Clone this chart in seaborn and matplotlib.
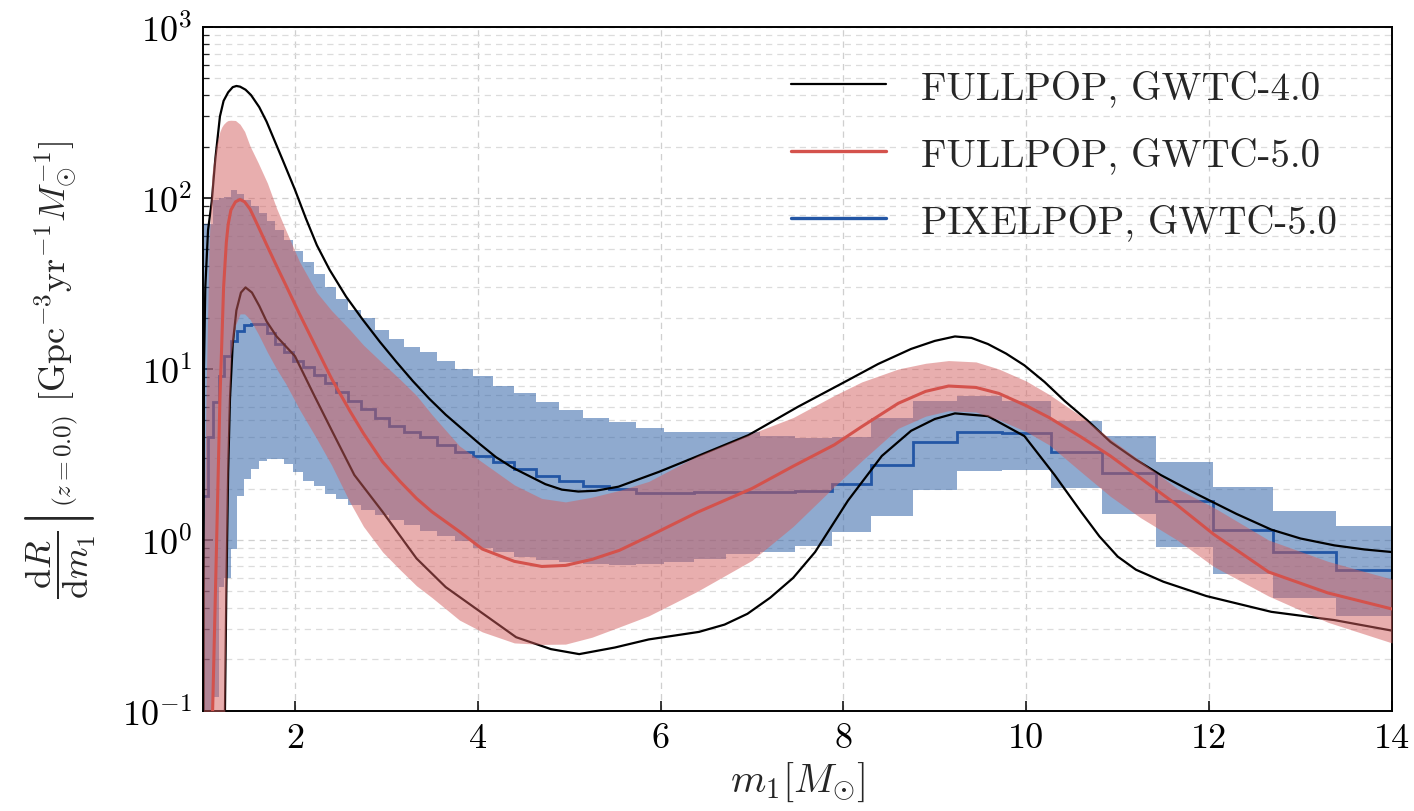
import io
import numpy as np
import matplotlib
matplotlib.use("Agg")
import matplotlib.pyplot as plt
import seaborn as sns
import pandas as pd
from matplotlib.lines import Line2D

# ---------------- data ----------------
# FULLPOP, GWTC-4.0 : 90% bounds (black lines)
bk_hi_x = [1.000, 1.005, 1.02, 1.05, 1.09, 1.13, 1.18, 1.22, 1.27, 1.32, 1.36, 1.40, 1.46,
           1.52, 1.61, 1.69, 1.78, 1.87, 2.00, 2.12, 2.24, 2.38, 2.56, 2.74, 2.93, 3.11,
           3.29, 3.47, 3.65, 3.83, 4.02, 4.20, 4.38, 4.56, 4.74, 4.92, 5.10, 5.29, 5.54,
           5.98, 6.41, 6.96, 7.50, 8.05, 8.38, 8.74, 9.00, 9.22, 9.40, 9.58, 9.78, 9.98,
           10.20, 10.42, 10.67, 10.92, 11.20, 11.47, 11.87, 12.30, 12.68, 13.00, 13.37,
           13.70, 14.00]
bk_hi_y = [0.05, 10, 30, 65, 95, 170, 300, 370, 415, 445, 452, 448, 430,
           400, 340, 280, 215, 165, 112, 76, 53, 38, 26.5, 19.5, 14.4, 11.0,
           8.5, 6.7, 5.4, 4.46, 3.65, 3.05, 2.65, 2.37, 2.12, 1.97, 1.92, 1.94, 2.05,
           2.5, 3.1, 4.1, 6.0, 8.6, 10.7, 13.1, 14.6, 15.5, 15.2, 14.0, 12.3, 10.5,
           8.4, 6.5, 5.0, 3.75, 2.95, 2.4, 1.85, 1.42, 1.15, 1.02, 0.93,
           0.88, 0.85]

bk_lo_x = [1.220, 1.235, 1.25, 1.27, 1.29, 1.32, 1.36, 1.41, 1.46, 1.53, 1.61, 1.69, 1.80,
           2.00, 2.20, 2.41, 2.65, 2.96, 3.33, 3.65, 4.00, 4.42, 4.80, 5.11, 5.50, 5.87,
           6.42, 6.70, 6.95, 7.20, 7.45, 7.69, 8.05, 8.42, 8.74, 9.00, 9.22, 9.58, 9.98,
           10.31, 10.60, 10.80, 11.00, 11.20, 11.50, 11.97, 12.68, 13.37, 14.00]
bk_lo_y = [0.03, 0.1, 0.5, 2.5, 6.7, 14, 22, 28, 30, 28, 23.4, 19, 15.5,
           11.9, 7.2, 4.3, 2.4, 1.46, 0.78, 0.53, 0.39, 0.27, 0.23, 0.215, 0.235, 0.262,
           0.29, 0.32, 0.37, 0.46, 0.60, 0.85, 1.7, 3.1, 4.35, 5.1, 5.5, 5.3, 4.05,
           2.4, 1.46, 1.05, 0.80, 0.67, 0.57, 0.47, 0.38, 0.34, 0.295]

# FULLPOP, GWTC-5.0 : median and 90% band (red)
red_x = [1.00, 1.03, 1.06, 1.09, 1.10, 1.14, 1.18, 1.20, 1.22, 1.25, 1.27, 1.30, 1.35, 1.40,
         1.45, 1.51, 1.60, 1.70, 1.80, 1.90, 2.05, 2.24, 2.40, 2.60, 2.75, 2.96, 3.15, 3.33,
         3.50, 3.80, 4.05, 4.40, 4.70, 4.96, 5.25, 5.55, 5.87, 6.40, 7.00, 7.45, 7.90, 8.20,
         8.60, 8.90, 9.15, 9.45, 9.70, 10.00, 10.25, 10.60, 10.92, 11.25, 11.65, 12.05,
         12.65, 13.30, 14.00]
red_hi = [0.5, 8, 50, 130, 150, 205, 245, 260, 270, 280, 284, 285, 284, 270,
          245, 201, 160, 122, 87, 65, 42.5, 28, 22, 17, 13.8, 10.8, 8.7, 7.0,
          5.4, 3.55, 2.85, 2.1, 1.75, 1.67, 1.78, 1.95, 2.2, 3.1, 4.2, 5.2, 7.0, 8.4,
          10.0, 10.8, 11.2, 11.0, 10.0, 8.5, 7.1, 5.3, 3.9, 2.9, 2.0, 1.55,
          1.0, 0.75, 0.59]
red_med = [0.01, 0.02, 0.04, 0.07, 0.1, 0.8, 6.7, 14, 30, 55, 70, 85, 95, 98,
           95, 86, 68, 52, 40, 31, 21, 13.1, 8.8, 5.7, 4.2, 2.86, 2.2, 1.75,
           1.46, 1.12, 0.885, 0.75, 0.70, 0.71, 0.77, 0.87, 1.05, 1.45, 2.0, 2.7, 3.6, 4.6,
           6.3, 7.4, 7.95, 7.8, 7.2, 6.1, 5.2, 4.0, 3.1, 2.3, 1.6, 1.08,
           0.65, 0.49, 0.395]
red_lo = [0.01, 0.01, 0.01, 0.01, 0.01, 0.01, 0.01, 0.01, 0.03, 0.5, 3, 12, 18, 21,
          21, 19.5, 16, 12.5, 10, 8.2, 5.8, 3.9, 2.75, 1.67, 1.2, 0.85, 0.67, 0.54,
          0.46, 0.34, 0.29, 0.25, 0.245, 0.246, 0.27, 0.31, 0.36, 0.50, 0.76, 1.2, 2.05, 2.9,
          4.5, 5.3, 5.7, 5.6, 5.05, 4.3, 3.6, 2.5, 1.8, 1.35, 1.0, 0.70,
          0.47, 0.33, 0.25]

# PIXELPOP, GWTC-5.0 : binned median and 90% band (blue)
bin_edges = [0.994, 1.048, 1.105, 1.166, 1.229, 1.296, 1.367, 1.441, 1.520, 1.603, 1.690,
             1.782, 1.879, 1.982, 2.090, 2.204, 2.324, 2.450, 2.584, 2.725, 2.873, 3.030,
             3.195, 3.369, 3.553, 3.746, 3.951, 4.166, 4.393, 4.633, 4.885, 5.151, 5.432,
             5.729, 6.041, 6.370, 6.717, 7.084, 7.470, 7.877, 8.306, 8.759, 9.237, 9.740,
             10.271, 10.831, 11.422, 12.044, 12.701, 13.393, 14.123]
blue_hi = [70, 70, 97, 100, 102, 112, 106, 98, 90, 82, 73, 65, 57, 49, 42, 36, 30, 25.7,
           22, 20, 16.9, 15, 13.4, 12.6, 11.1, 10, 9.1, 7.9, 7.2, 6.4, 5.75, 5.2, 4.9, 4.5,
           4.3, 4.3, 4.3, 4.05, 3.95, 4.0, 5.2, 6.5, 6.95, 6.5, 4.97, 4.05, 2.86, 2.04,
           1.48, 1.21]
blue_med = [1.8, 4.0, 6.4, 9.1, 11.9, 14.5, 16.6, 18, 18.3, 18.3, 16.3, 14, 12.5, 11.2,
            10.3, 9.2, 8.3, 7.3, 6.5, 5.8, 5.2, 4.65, 4.3, 4.0, 3.6, 3.27, 3.1, 2.86, 2.6,
            2.37, 2.21, 2.07, 2.0, 1.88, 1.88, 1.9, 1.9, 1.9, 1.93, 2.12, 2.73, 3.74, 4.3,
            4.2, 3.27, 2.46, 1.68, 1.14, 0.85, 0.67]
blue_lo = [0.05, 0.05, 0.12, 0.53, 0.6, 0.885, 1.8, 2.27, 2.6, 2.9, 2.98, 2.98, 2.78, 2.5,
           2.2, 2.07, 1.86, 1.74, 1.6, 1.5, 1.4, 1.3, 1.22, 1.13, 1.05, 0.98, 0.9, 0.85,
           0.8, 0.76, 0.74, 0.72, 0.71, 0.72, 0.74, 0.77, 0.83, 0.85, 0.92, 1.11, 1.38,
           1.96, 2.54, 2.57, 2.01, 1.42, 0.91, 0.63, 0.46, 0.36]

x_ticks = [2, 4, 6, 8, 10, 12, 14]
legend_labels = ["FULLPOP, GWTC-4.0", "FULLPOP, GWTC-5.0", "PIXELPOP, GWTC-5.0"]

# ---------------- style ----------------
sns.set_theme(style="ticks")
plt.rcParams["font.family"] = ["cmr10", "DejaVu Serif"]
plt.rcParams["mathtext.fontset"] = "cm"
plt.rcParams["axes.formatter.use_mathtext"] = True
plt.rcParams["axes.unicode_minus"] = False

BLACK = "#000000"
RED_LINE = "#d4524c"
RED_FILL = "#d35f5f"
BLUE_LINE = "#2356a5"
BLUE_FILL = "#3465a8"

fig = plt.figure(figsize=(14.14, 8.12), dpi=100)
ax = fig.add_axes([0.1439, 0.1232, 0.9844 - 0.1439, 0.9655 - 0.1232])
ax.set_yscale("log")

# blue band (binned)
ax.stairs(blue_hi, bin_edges, baseline=blue_lo, fill=True, color=BLUE_FILL,
          alpha=0.55, lw=0, zorder=1)
ax.stairs(blue_med, bin_edges, baseline=None, color=BLUE_LINE, lw=2.0, zorder=2)

# black bounds
sns.lineplot(data=pd.DataFrame({"x": bk_hi_x, "y": bk_hi_y}), x="x", y="y", ax=ax,
             color=BLACK, lw=1.6, sort=False, estimator=None, zorder=3)
sns.lineplot(data=pd.DataFrame({"x": bk_lo_x, "y": bk_lo_y}), x="x", y="y", ax=ax,
             color=BLACK, lw=1.6, sort=False, estimator=None, zorder=3)

# red band
ax.fill_between(red_x, red_lo, red_hi, color=RED_FILL, alpha=0.5, lw=0, zorder=4)
sns.lineplot(data=pd.DataFrame({"x": red_x, "y": red_med}), x="x", y="y", ax=ax,
             color=RED_LINE, lw=2.2, sort=False, estimator=None, zorder=5)

ax.set_xlim(1, 14)
ax.set_ylim(0.1, 1000)
ax.set_xticks(x_ticks)
ax.set_xticklabels([str(t) for t in x_ticks])

ax.grid(True, which="major", ls=(0, (5, 4)), color="#cfcfcf", lw=0.9)
ax.grid(True, which="minor", axis="y", ls=(0, (5, 4)), color="#dcdcdc", lw=0.9)
ax.xaxis.set_minor_locator(matplotlib.ticker.NullLocator())

ax.tick_params(axis="both", which="major", direction="in", length=7, width=1.1,
               labelsize=26, top=False, right=False, pad=8, colors="black")
ax.tick_params(axis="y", which="minor", direction="in", length=4, width=0.9,
               right=False)
for s in ax.spines.values():
    s.set_visible(True)
    s.set_color("black")
    s.set_linewidth(1.4)

ax.set_xlabel(r"$m_1[M_{\odot}]$", fontsize=29, labelpad=4)

ylab = (r"$\left.\dfrac{\mathrm{d}R}{\mathrm{d}m_1}\right|_{(z=0.0)}\ "
        r"[\mathrm{Gpc}^{-3}\mathrm{yr}^{-1}M_{\odot}^{-1}]$")
try:
    matplotlib.mathtext.math_to_image(ylab, io.BytesIO(), dpi=72, format="png")
except Exception:
    ylab = (r"$\left.\frac{\mathrm{d}R}{\mathrm{d}m_1}\right|_{(z=0.0)}\ "
            r"[\mathrm{Gpc}^{-3}\mathrm{yr}^{-1}M_{\odot}^{-1}]$")
ax.set_ylabel(ylab, fontsize=26, labelpad=18)

handles = [Line2D([], [], color=BLACK, lw=1.6),
           Line2D([], [], color=RED_LINE, lw=2.4),
           Line2D([], [], color=BLUE_LINE, lw=2.4)]
ax.legend(handles, legend_labels, loc="upper right", bbox_to_anchor=(0.983, 0.99),
          frameon=False, fontsize=28, handlelength=2.45, handletextpad=0.9,
          labelspacing=0.78)

fig.savefig("out.png", dpi=100)
